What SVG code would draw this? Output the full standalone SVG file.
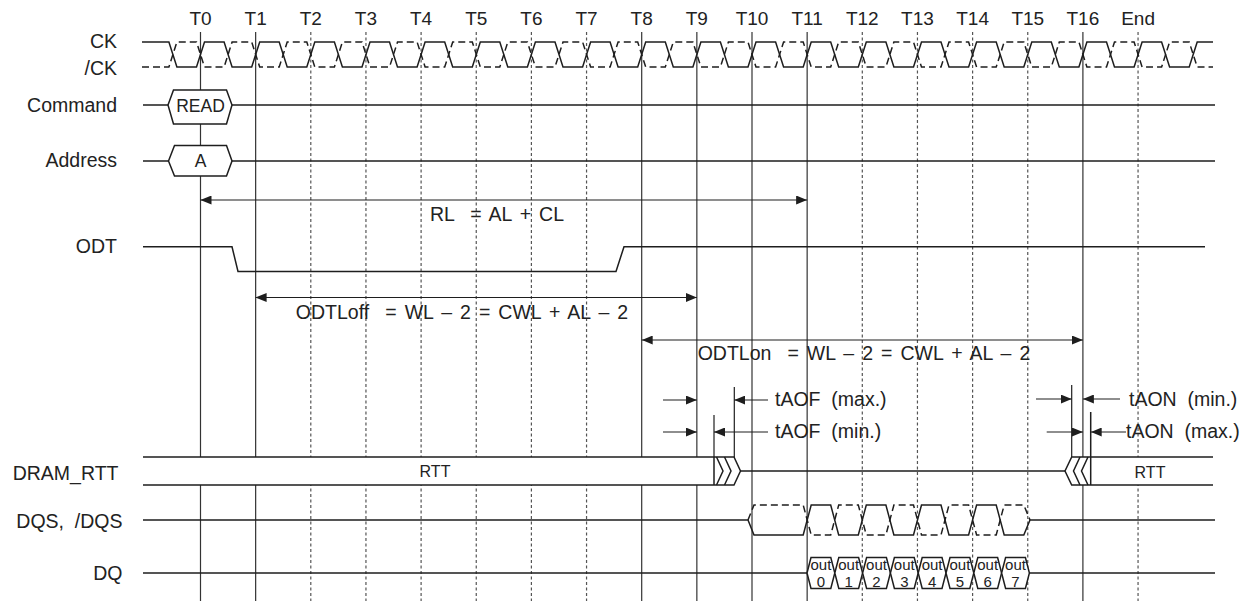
<svg xmlns="http://www.w3.org/2000/svg" width="1255" height="601" viewBox="0 0 1255 601">
<style>
text{font-family:"Liberation Sans",Arial,sans-serif;fill:#222;white-space:pre}
.lbl{font-size:19.5px;text-anchor:end}
.tick{font-size:19px;text-anchor:middle}
.ann{font-size:19.5px}
.frm{font-size:19.5px;text-anchor:middle;word-spacing:2.6px}
.small{font-size:17.5px;text-anchor:middle}
.rtt{font-size:16px;text-anchor:middle}
.out{font-size:15px;text-anchor:middle}
.sig{fill:none;stroke:#1e1e1e;stroke-width:1.5;stroke-linejoin:miter}
.box{fill:#fff;stroke:#1e1e1e;stroke-width:1.5}
.fillw{fill:#fff;stroke:none}
.dsh{stroke-dasharray:7 4}
.vs{stroke:#333;stroke-width:1.2}
.vd{stroke:#555;stroke-width:1.2;stroke-dasharray:3 2.5}
.dim{fill:none;stroke:#1e1e1e;stroke-width:1.2}
</style>
<defs>
<marker id="ah" viewBox="0 0 11 9" refX="11" refY="4.5" markerWidth="11" markerHeight="9" markerUnits="userSpaceOnUse" orient="auto-start-reverse">
<path d="M0,0 L11,4.5 L0,9 z" fill="#1e1e1e"/>
</marker>
</defs>

<g id="grid">
<line class="vs" x1="200.5" y1="32" x2="200.5" y2="601"/>
<line class="vs" x1="255.65" y1="32" x2="255.65" y2="601"/>
<line class="vd" x1="310.8" y1="32" x2="310.8" y2="601"/>
<line class="vd" x1="365.95" y1="32" x2="365.95" y2="601"/>
<line class="vd" x1="421.1" y1="32" x2="421.1" y2="601"/>
<line class="vd" x1="476.25" y1="32" x2="476.25" y2="601"/>
<line class="vd" x1="531.4" y1="32" x2="531.4" y2="601"/>
<line class="vd" x1="586.55" y1="32" x2="586.55" y2="601"/>
<line class="vs" x1="641.7" y1="32" x2="641.7" y2="601"/>
<line class="vs" x1="696.85" y1="32" x2="696.85" y2="601"/>
<line class="vs" x1="752" y1="32" x2="752" y2="601"/>
<line class="vs" x1="807.15" y1="32" x2="807.15" y2="601"/>
<line class="vd" x1="862.3" y1="32" x2="862.3" y2="601"/>
<line class="vd" x1="917.45" y1="32" x2="917.45" y2="601"/>
<line class="vd" x1="972.6" y1="32" x2="972.6" y2="601"/>
<line class="vd" x1="1027.75" y1="32" x2="1027.75" y2="601"/>
<line class="vs" x1="1082.9" y1="32" x2="1082.9" y2="601"/>
<line class="vd" x1="1138.05" y1="32" x2="1138.05" y2="601"/>
</g>

<g id="ticks">
<text class="tick" x="200.5" y="25">T0</text>
<text class="tick" x="255.65" y="25">T1</text>
<text class="tick" x="310.8" y="25">T2</text>
<text class="tick" x="365.95" y="25">T3</text>
<text class="tick" x="421.1" y="25">T4</text>
<text class="tick" x="476.25" y="25">T5</text>
<text class="tick" x="531.4" y="25">T6</text>
<text class="tick" x="586.55" y="25">T7</text>
<text class="tick" x="641.7" y="25">T8</text>
<text class="tick" x="696.85" y="25">T9</text>
<text class="tick" x="752" y="25">T10</text>
<text class="tick" x="807.15" y="25">T11</text>
<text class="tick" x="862.3" y="25">T12</text>
<text class="tick" x="917.45" y="25">T13</text>
<text class="tick" x="972.6" y="25">T14</text>
<text class="tick" x="1027.75" y="25">T15</text>
<text class="tick" x="1082.9" y="25">T16</text>
<text class="tick" x="1138.05" y="25">End</text>
</g>

<g id="clock">
<text class="lbl" x="117" y="48">CK</text>
<text class="lbl" x="117" y="75">/CK</text>
<path class="sig" d="M142,42 H168.9 L176.9,67 H196.5 L204.5,42 H224.1 L232.1,67 H251.7 L259.7,42 H279.2 L287.2,67 H306.8 L314.8,42 H334.4 L342.4,67 H362 L370,42 H389.5 L397.5,67 H417.1 L425.1,42 H444.7 L452.7,67 H472.3 L480.3,42 H499.8 L507.8,67 H527.4 L535.4,42 H555 L563,67 H582.6 L590.6,42 H610.1 L618.1,67 H637.7 L645.7,42 H665.3 L673.3,67 H692.9 L700.9,42 H720.4 L728.4,67 H748 L756,42 H775.6 L783.6,67 H803.2 L811.2,42 H830.7 L838.7,67 H858.3 L866.3,42 H885.9 L893.9,67 H913.5 L921.5,42 H941 L949,67 H968.6 L976.6,42 H996.2 L1004.2,67 H1023.8 L1031.8,42 H1051.3 L1059.3,67 H1078.9 L1086.9,42 H1106.5 L1114.5,67 H1134.1 L1142.1,42 H1161.6 L1169.6,67 H1189.2 L1197.2,42 H1213"/>
<path class="sig dsh" d="M142,67 H168.9 L176.9,42 H196.5 L204.5,67 H224.1 L232.1,42 H251.7 L259.7,67 H279.2 L287.2,42 H306.8 L314.8,67 H334.4 L342.4,42 H362 L370,67 H389.5 L397.5,42 H417.1 L425.1,67 H444.7 L452.7,42 H472.3 L480.3,67 H499.8 L507.8,42 H527.4 L535.4,67 H555 L563,42 H582.6 L590.6,67 H610.1 L618.1,42 H637.7 L645.7,67 H665.3 L673.3,42 H692.9 L700.9,67 H720.4 L728.4,42 H748 L756,67 H775.6 L783.6,42 H803.2 L811.2,67 H830.7 L838.7,42 H858.3 L866.3,67 H885.9 L893.9,42 H913.5 L921.5,67 H941 L949,42 H968.6 L976.6,67 H996.2 L1004.2,42 H1023.8 L1031.8,67 H1051.3 L1059.3,42 H1078.9 L1086.9,67 H1106.5 L1114.5,42 H1134.1 L1142.1,67 H1161.6 L1169.6,42 H1189.2 L1197.2,67 H1213"/>
</g>

<g id="command">
<text class="lbl" x="117" y="112">Command</text>
<path class="sig" d="M143,105 H168 M232,105 H1215"/>
<polygon class="box" points="168,105 173.5,90 226.5,90 232,105 226.5,124 173.5,124"/>
<text class="small" x="200.5" y="111.5">READ</text>
</g>

<g id="address">
<text class="lbl" x="117" y="166.5">Address</text>
<path class="sig" d="M143,161 H168.5 M232,161 H1215"/>
<polygon class="box" points="168.5,161 174.5,145.5 226.5,145.5 232,161 226.5,176 174.5,176"/>
<text class="small" x="200.5" y="167">A</text>
</g>

<g id="odt">
<text class="lbl" x="117" y="253">ODT</text>
<path class="sig" d="M143,246.7 H232 L238,271.5 H616 L624,246.7 H1205"/>
</g>

<g id="dram_rtt">
<text class="lbl" x="118.5" y="480">DRAM_RTT</text>
<path class="fillw" d="M143,457 H734 L740.5,471 L734,485 H143 Z"/>
<path class="sig" d="M143,457 H734 L740.5,471 L734,485 H143"/>
<path class="sig" d="M714,457 V485 M716.5,457 L723,471 L716.5,485 M724.5,457 L731,471 L724.5,485 M740.5,471 H1065"/>
<text class="rtt" x="435" y="477">RTT</text>
<path class="fillw" d="M1213,457 H1071.7 L1065,471 L1071.7,485 H1213 Z"/>
<path class="sig" d="M1213,457 H1071.7 L1065,471 L1071.7,485 H1213"/>
<path class="sig" d="M1090.7,412 V485 M1088,457 L1081.5,471 L1088,485 M1080,457 L1073.5,471 L1080,485"/>
<text class="rtt" x="1150" y="478">RTT</text>
</g>

<g id="dqs">
<text class="lbl" x="122.5" y="528">DQS,  /DQS</text>
<path class="sig" d="M143,520 H748 L754,535 H803.2 L811.2,505 H830.7 L838.7,535 H858.3 L866.3,505 H885.9 L893.9,535 H913.5 L921.5,505 H941 L949,535 H968.6 L976.6,505 H996.2 L1004.2,535 H1023.8 L1030,520 H1215"/>
<path class="sig dsh" d="M748,520 L754,505 H803.2 L811.2,535 H830.7 L838.7,505 H858.3 L866.3,535 H885.9 L893.9,505 H913.5 L921.5,535 H941 L949,505 H968.6 L976.6,535 H996.2 L1004.2,505 H1023.8 L1030,520"/>
</g>

<g id="dq">
<text class="lbl" x="122.5" y="580">DQ</text>
<path class="sig" d="M143,573 H807 M1029.4,573 H1215"/>
<polygon class="box" points="807,573 811,557.5 830.8,557.5 834.8,573 830.8,588.5 811,588.5"/>
<polygon class="box" points="834.8,573 838.8,557.5 858.6,557.5 862.6,573 858.6,588.5 838.8,588.5"/>
<polygon class="box" points="862.6,573 866.6,557.5 886.4,557.5 890.4,573 886.4,588.5 866.6,588.5"/>
<polygon class="box" points="890.4,573 894.4,557.5 914.2,557.5 918.2,573 914.2,588.5 894.4,588.5"/>
<polygon class="box" points="918.2,573 922.2,557.5 942,557.5 946,573 942,588.5 922.2,588.5"/>
<polygon class="box" points="946,573 950,557.5 969.8,557.5 973.8,573 969.8,588.5 950,588.5"/>
<polygon class="box" points="973.8,573 977.8,557.5 997.6,557.5 1001.6,573 997.6,588.5 977.8,588.5"/>
<polygon class="box" points="1001.6,573 1005.6,557.5 1025.4,557.5 1029.4,573 1025.4,588.5 1005.6,588.5"/>
<text class="out" x="820.9" y="569.8">out</text><text class="out" x="820.9" y="587">0</text>
<text class="out" x="848.7" y="569.8">out</text><text class="out" x="848.7" y="587">1</text>
<text class="out" x="876.5" y="569.8">out</text><text class="out" x="876.5" y="587">2</text>
<text class="out" x="904.3" y="569.8">out</text><text class="out" x="904.3" y="587">3</text>
<text class="out" x="932.1" y="569.8">out</text><text class="out" x="932.1" y="587">4</text>
<text class="out" x="959.9" y="569.8">out</text><text class="out" x="959.9" y="587">5</text>
<text class="out" x="987.7" y="569.8">out</text><text class="out" x="987.7" y="587">6</text>
<text class="out" x="1015.5" y="569.8">out</text><text class="out" x="1015.5" y="587">7</text>
</g>

<g id="connectors">
<line class="dim" x1="200.5" y1="200" x2="807.15" y2="200" marker-start="url(#ah)" marker-end="url(#ah)"/>
<line class="dim" x1="255.65" y1="297.5" x2="696.85" y2="297.5" marker-start="url(#ah)" marker-end="url(#ah)"/>
<line class="dim" x1="641.7" y1="340" x2="1082.9" y2="340" marker-start="url(#ah)" marker-end="url(#ah)"/>
<line class="dim" x1="663" y1="400" x2="696.85" y2="400" marker-end="url(#ah)"/>
<line class="dim" x1="768" y1="400" x2="734.3" y2="400" marker-end="url(#ah)"/>
<line class="dim" x1="663" y1="432" x2="696.85" y2="432" marker-end="url(#ah)"/>
<line class="dim" x1="768" y1="432" x2="714" y2="432" marker-end="url(#ah)"/>
<line class="dim" x1="734.3" y1="387" x2="734.3" y2="457"/>
<line class="dim" x1="714" y1="415" x2="714" y2="457"/>
<line class="dim" x1="1036" y1="399" x2="1071.7" y2="399" marker-end="url(#ah)"/>
<line class="dim" x1="1120" y1="399" x2="1082.9" y2="399" marker-end="url(#ah)"/>
<line class="dim" x1="1046.7" y1="432" x2="1082.9" y2="432" marker-end="url(#ah)"/>
<line class="dim" x1="1126" y1="432" x2="1090.7" y2="432" marker-end="url(#ah)"/>
<line class="dim" x1="1071.7" y1="385" x2="1071.7" y2="457"/>
</g>

<g id="annotations">
<text class="frm" x="497" y="221">RL  = AL + CL</text>
<text class="frm" x="462" y="318.5">ODTLoff  = WL – 2 = CWL + AL – 2</text>
<text class="frm" x="864" y="360">ODTLon  = WL – 2 = CWL + AL – 2</text>
<text class="ann" x="775" y="406">tAOF  (max.)</text>
<text class="ann" x="775" y="437.5">tAOF  (min.)</text>
<text class="ann" x="1129" y="406">tAON  (min.)</text>
<text class="ann" x="1126" y="437.5">tAON  (max.)</text>
</g>
</svg>
